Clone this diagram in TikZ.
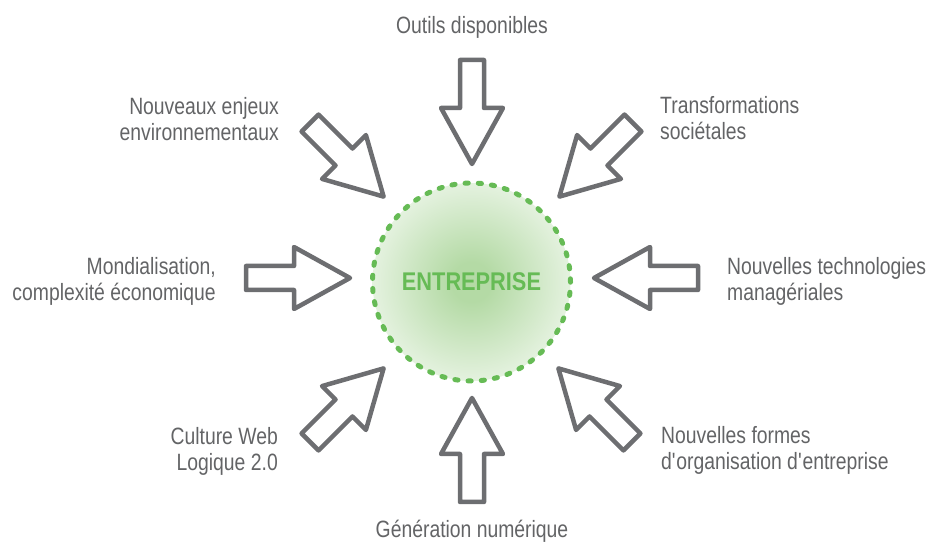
\documentclass[tikz,border=0pt]{standalone}
\usepackage{fontspec}
\setmainfont{Liberation Sans}[FakeStretch=0.82]
\newfontfamily\entfont{Liberation Sans}[FakeStretch=0.85]
\definecolor{arrowgray}{HTML}{6D6E71}
\definecolor{txtgray}{HTML}{636466}
\definecolor{entgreen}{HTML}{66BB55}
\definecolor{glow}{RGB}{180,218,165}
\pgfdeclareradialshading{entglow}{\pgfpoint{0bp}{0bp}}{color(0bp)=(glow); color(5bp)=(glow); color(36bp)=(white); color(50bp)=(white)}
\begin{document}
\begin{tikzpicture}[x=1pt,y=1pt,
  inarrow/.style={draw=arrowgray, line width=4.5pt, line join=round, fill=white},
  lbl/.style={text=txtgray, inner sep=0pt, font=\fontsize{23.6}{26}\selectfont},
  bigarrow/.pic={\draw[inarrow] (0,0) -- (-56,31) -- (-56,12) -- (-104,12) -- (-104,-12) -- (-56,-12) -- (-56,-31) -- cycle;}
]
\useasboundingbox (0,0) rectangle (932,543);
\node[circle, minimum size=198pt, inner sep=0pt, shading=entglow, draw=entgreen, line width=5pt, line cap=round, dash pattern=on 3.2pt off 10.03pt, text=entgreen, font=\entfont\bfseries\fontsize{25.6}{30}\selectfont] (ent) at (471.5,261) {ENTREPRISE};

\pic[rotate=-90] (atop) at (472,379) {bigarrow};
\pic[rotate=90] (abot) at (472,145) {bigarrow};
\pic[rotate=0] (aleft) at (350,265) {bigarrow};
\pic[rotate=180] (aright) at (594,265) {bigarrow};
\pic[rotate=-45] (anw) at (383.6,346.4) {bigarrow};
\pic[rotate=-135] (ane) at (559.4,346.4) {bigarrow};
\pic[rotate=45] (asw) at (383.6,174.6) {bigarrow};
\pic[rotate=135] (ase) at (558.4,174.6) {bigarrow};

\node[lbl, anchor=base] (t1) at (472,509) {Outils disponibles};
\node[lbl, anchor=base] (t2) at (472,5) {Génération numérique};
\node[lbl, anchor=north east, align=right] (t3) at (279,446) {Nouveaux enjeux\\environnementaux};
\node[lbl, anchor=north west, align=left] (t4) at (660,447) {Transformations\\sociétales};
\node[lbl, anchor=north east, align=right] (t5) at (216,286) {Mondialisation,\\complexité économique};
\node[lbl, anchor=north west, align=left] (t6) at (727,286) {Nouvelles technologies\\managériales};
\node[lbl, anchor=north east, align=right] (t7) at (278,116) {Culture Web\\Logique 2.0};
\node[lbl, anchor=north west, align=left] (t8) at (661,117) {Nouvelles formes\\d\textquotesingle organisation d\textquotesingle entreprise};
\end{tikzpicture}
\end{document}
